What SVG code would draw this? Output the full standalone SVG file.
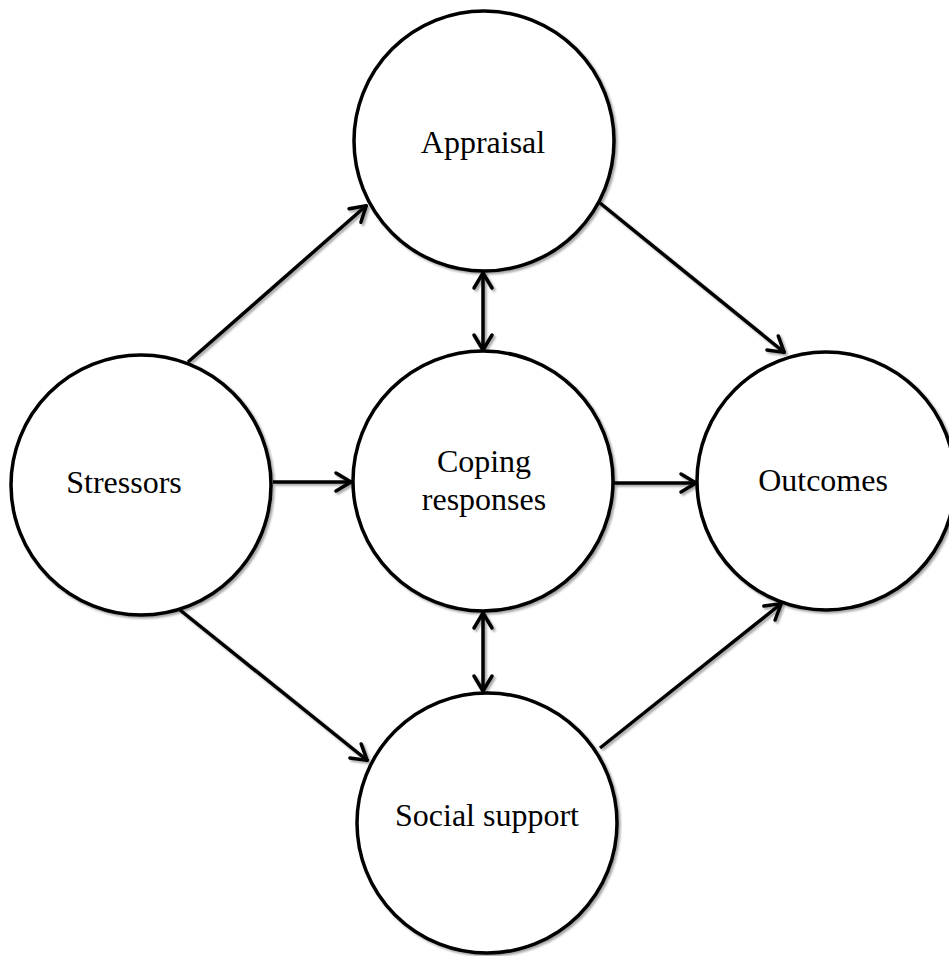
<svg xmlns="http://www.w3.org/2000/svg" width="949" height="956" viewBox="0 0 949 956">
<defs>
<filter id="sh" x="-10%" y="-10%" width="120%" height="120%">
<feDropShadow dx="2" dy="2" stdDeviation="0.8" flood-color="#000" flood-opacity="0.35"/>
</filter>
<marker id="ah" markerUnits="userSpaceOnUse" viewBox="-20 -12 24 24" refX="0" refY="0" markerWidth="24" markerHeight="24" orient="auto-start-reverse">
<path d="M-16,-9 L-1,0 L-16,9" fill="none" stroke="#000" stroke-width="3.5" stroke-linecap="round" stroke-linejoin="round"/>
</marker>
</defs>
<style>
.node circle { fill: #fff; stroke: #000; stroke-width: 3.5; }
.node text { font-family: "Liberation Serif", "Times New Roman", serif; font-size: 32px; fill: #000; text-anchor: middle; }
.conn line { stroke: #000; stroke-width: 3.5; }
</style>
<g id="connectors" class="conn" filter="url(#sh)">
<line x1="188" y1="362" x2="367" y2="205" marker-end="url(#ah)"/>
<line x1="600" y1="203" x2="785" y2="353" marker-end="url(#ah)"/>
<line x1="180" y1="610" x2="368" y2="761" marker-end="url(#ah)"/>
<line x1="600" y1="748" x2="782" y2="603" marker-end="url(#ah)"/>
<line x1="273" y1="482" x2="352" y2="482" marker-end="url(#ah)"/>
<line x1="614" y1="483" x2="697" y2="483" marker-end="url(#ah)"/>
<line x1="483" y1="272" x2="483" y2="351" marker-start="url(#ah)" marker-end="url(#ah)"/>
<line x1="483" y1="612" x2="483" y2="692" marker-start="url(#ah)" marker-end="url(#ah)"/>
</g>
<g id="appraisal" class="node">
<circle cx="484" cy="141" r="130" filter="url(#sh)"/>
<text x="483" y="153">Appraisal</text>
</g>
<g id="stressors" class="node">
<circle cx="141" cy="485" r="130" filter="url(#sh)"/>
<text x="124" y="493">Stressors</text>
</g>
<g id="coping" class="node">
<circle cx="483" cy="481" r="130" filter="url(#sh)"/>
<text x="484" y="472">Coping</text>
<text x="484" y="510">responses</text>
</g>
<g id="outcomes" class="node">
<circle cx="826" cy="481" r="129" filter="url(#sh)"/>
<text x="823" y="491">Outcomes</text>
</g>
<g id="social" class="node">
<circle cx="487" cy="823" r="130" filter="url(#sh)"/>
<text x="487" y="826">Social support</text>
</g>
</svg>
